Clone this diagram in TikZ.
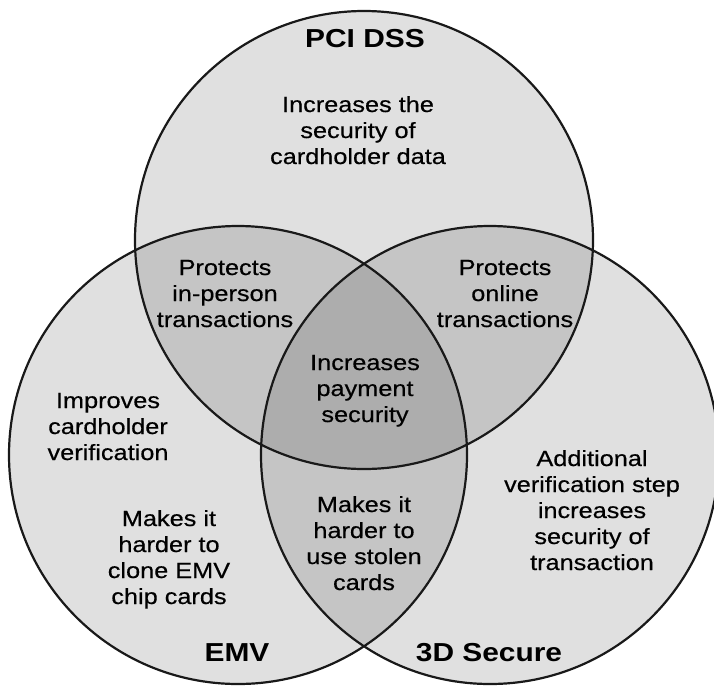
\documentclass[tikz,border=0pt]{standalone}
\usepackage{fontspec}
\setmainfont{Liberation Sans}[FakeStretch=1.15]
\newfontfamily\medfont{Liberation Sans}[FakeStretch=1.15, FakeBold=0.5]
\tikzset{
    venn/.style={fill=black, fill opacity=0.12}, % 圆的填充
    rim/.style={draw=black!90, line width=2.2pt}, % 圆的轮廓
    note/.style={align=center, anchor=base, inner sep=0pt, font=\medfont\fontsize{22}{26}\selectfont}, % 区域说明文字
    title/.style={anchor=base, inner sep=0pt, font=\fontsize{26}{30}\selectfont\bfseries} % 圆的标题
}

\begin{document}
\begin{tikzpicture}[x=1pt, y=-1pt]
    \def\rad{229}
    \useasboundingbox (0,0) rectangle (714,686);
    \clip (0,0) rectangle (714,686);

    \coordinate (pci) at (364,240);
    \coordinate (emv) at (238,455);
    \coordinate (tds) at (490,455);
    \foreach \c in {pci,emv,tds} {\fill[venn] (\c) circle[radius=\rad];}
    \foreach \c in {pci,emv,tds} {\draw[rim] (\c) circle[radius=\rad];}

    \node[title] (pcit) at (365,47) {PCI DSS};
    \node[title] (emvt) at (237,661) {EMV};
    \node[title] (tdst) at (489,661) {3D Secure};

    % 锚点在最后一行的基线上
    \node[note] (data) at (358,164) {Increases the\\security of\\cardholder data};
    \node[note] (inps) at (225,327) {Protects\\in-person\\transactions};
    \node[note] (onln) at (505,327) {Protects\\online\\transactions};
    \node[note] (paym) at (365,422) {Increases\\payment\\security};
    \node[note] (verf) at (108,460) {Improves\\cardholder\\verification};
    \node[note] (clon) at (169,604) {Makes it\\harder to\\clone EMV\\chip cards};
    \node[note] (stln) at (364,590) {Makes it\\harder to\\use stolen\\cards};
    \node[note] (step) at (592,570) {Additional\\verification step\\increases\\security of\\transaction};
\end{tikzpicture}
\end{document}
